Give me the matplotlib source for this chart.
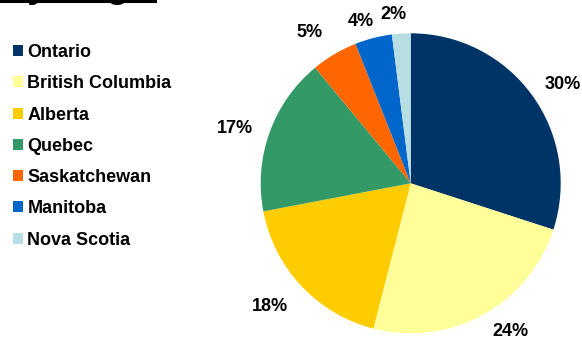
import numpy as np
import matplotlib
matplotlib.use('Agg')
import matplotlib.pyplot as plt
from matplotlib.lines import Line2D

plt.rcParams['font.family'] = ['Liberation Sans', 'DejaVu Sans']

# share by province (%)
provinces = ['Ontario', 'British Columbia', 'Alberta', 'Quebec',
             'Saskatchewan', 'Manitoba', 'Nova Scotia']
shares = [30, 24, 18, 17, 5, 4, 2]
colors = ['#003366', '#FFFF99', '#FFCC00', '#339966',
          '#FF6600', '#0066CC', '#B7DEE2']
title = 'By Region'

# outside-label placement: distance (in radii) and angle tweak (deg)
label_dist = [1.21, 1.19, 1.25, 1.23, 1.21, 1.13, 1.13]
label_turn = [-3, 5, -2, 2.4, 3.4, 2.6, 2.4]

W, H = 582, 341
fig = plt.figure(figsize=(W / 100, H / 100), dpi=100)

# pie: centre ~(411, 183) px, radius 150 px
ax = fig.add_axes([260.7 / W, 7.7 / H, 300 / W, 300 / H])
wedges, _ = ax.pie(shares, colors=colors, startangle=90, counterclock=False,
                   radius=1.0, wedgeprops=dict(linewidth=0))
for w, v, d, t in zip(wedges, shares, label_dist, label_turn):
    ang = np.deg2rad((w.theta1 + w.theta2) / 2 + t)
    ax.text(d * np.cos(ang), d * np.sin(ang), f'{v}%', ha='center',
            va='center', fontsize=13, fontweight='bold')
ax.set_xlim(-1, 1)
ax.set_ylim(-1, 1)
ax.set_aspect('equal')
ax.axis('off')

# legend on the left
fig.legend(wedges, provinces, loc='upper left',
           bbox_to_anchor=(13 / W, 1 - 44 / H), frameon=False,
           prop=dict(size=13, weight='bold'),
           handlelength=0.55, handleheight=0.55, handletextpad=0.25,
           labelspacing=0.79, borderaxespad=0, borderpad=0)

# title sits mostly above the top edge, underlined
fig.text(0.0, 1 + 3 / H, title, fontsize=27, fontweight='bold',
         ha='left', va='baseline')
fig.add_artist(Line2D([0, 155 / W], [1 - 1 / H, 1 - 1 / H],
                      transform=fig.transFigure, color='black', lw=2.2))

fig.savefig('out.png', dpi=100)
